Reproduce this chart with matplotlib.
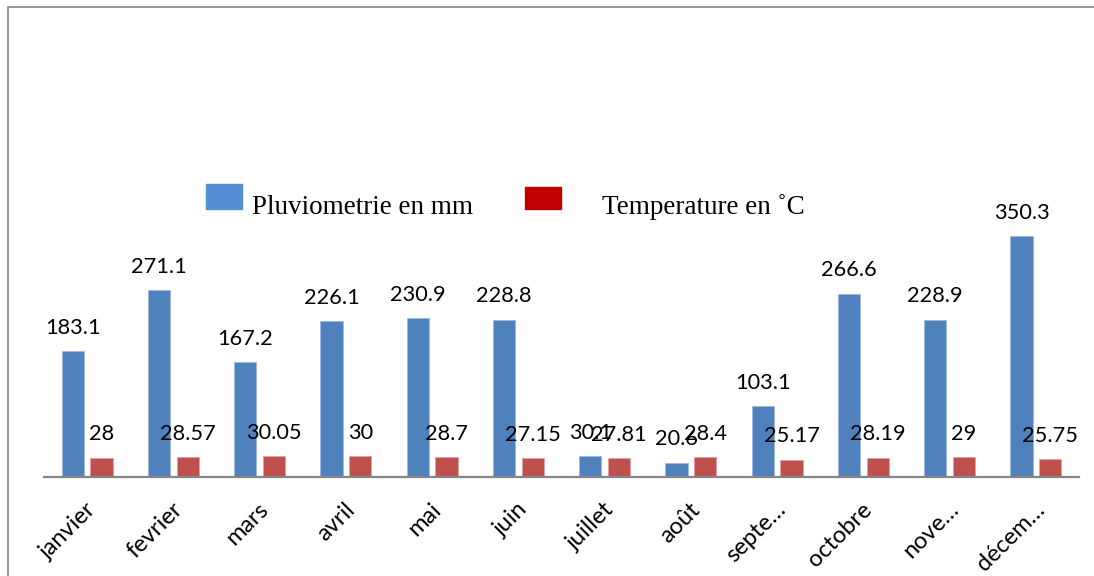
import numpy as np
import matplotlib.pyplot as plt
import matplotlib.transforms as mtransforms
from matplotlib.patches import Rectangle

mois = ["janvier", "fevrier", "mars", "avril", "mai", "juin", "juillet",
        "août", "septe…", "octobre", "nove…", "décem…"]
pluie = [183.1, 271.1, 167.2, 226.1, 230.9, 228.8, 30.1, 20.6, 103.1, 266.6, 228.9, 350.3]
temp = [28, 28.57, 30.05, 30, 28.7, 27.15, 27.81, 28.4, 25.17, 28.19, 29, 25.75]

W, H = 1094, 576
fig = plt.figure(figsize=(W / 100, H / 100), dpi=100)

# cadre gris autour du graphique (coupé à droite et en bas)
fig.patches.append(Rectangle((8 / W, -0.1), 1.2, 1 - 7 / H + 0.1,
                             transform=fig.transFigure, fill=False,
                             edgecolor="#868686", linewidth=1.2))

ax = fig.add_axes([44 / W, (H - 477) / H, 1035 / W, 275.2 / H])
x = np.arange(len(mois))
w = 0.26
b1 = ax.bar(x - 0.167, pluie, w, color="#4F81BD", edgecolor="#9DB9DC", linewidth=0.6)
b2 = ax.bar(x + 0.167, temp, w, color="#C0504D", edgecolor="#E0A2A0", linewidth=0.6)

lab_font = dict(family="Lato", fontsize=15.7, color="black")
for bars, vals in ((b1, pluie), (b2, temp)):
    for r, v in zip(bars, vals):
        ax.annotate(f"{v:g}", (r.get_x() + r.get_width() / 2, r.get_height()),
                    xytext=(0, 12.5), textcoords="offset points",
                    ha="center", va="baseline", **lab_font)

ax.set_xlim(-0.5, len(mois) - 0.5)
ax.set_ylim(0, 400)
ax.set_yticks([])
for s in ("left", "right", "top"):
    ax.spines[s].set_visible(False)
ax.spines["bottom"].set_color("#868686")
ax.spines["bottom"].set_linewidth(1.6)

ax.set_xticks(x)
ax.set_xticklabels(mois, rotation=45, ha="right", va="center",
                   rotation_mode="anchor", family="Lato", fontsize=17)
ax.tick_params(axis="x", length=0, pad=21)
off = mtransforms.ScaledTranslation(4 / 72, 0, fig.dpi_scale_trans)
for t in ax.get_xticklabels():
    t.set_transform(t.get_transform() + off)

# légende dessinée à la main, comme dans le graphique Excel
leg_font = dict(family="Liberation Serif", fontsize=19.5, color="black")
fig.patches.append(Rectangle((206 / W, (H - 209) / H), 36 / W, 25 / H,
                             transform=fig.transFigure, color="#558ED5"))
fig.text(252 / W, (H - 214) / H, "Pluviometrie en mm", va="baseline", **leg_font)
fig.patches.append(Rectangle((525 / W, (H - 209) / H), 36 / W, 22 / H,
                             transform=fig.transFigure, color="#C00000"))
fig.text(602 / W, (H - 214) / H, "Temperature en ˚C", va="baseline", **leg_font)

fig.savefig("out.png", dpi=100)
